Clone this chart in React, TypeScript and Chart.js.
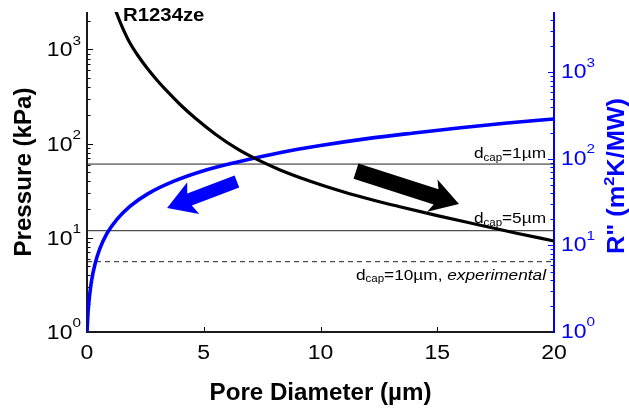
import React, { useEffect, useRef } from "react";
import { Chart, registerables } from "chart.js";
Chart.register(...registerables);

// ---- data ----
const pressureDiameter = [1.1, 1.25, 1.5, 1.84, 2.2, 2.57, 3, 3.43, 4, 4.63, 5.5, 6.42, 7.3, 8.27, 9.5, 11, 12.2, 13.4, 15, 16.8, 18.4, 20];
const pressureKPa = [3200, 2496, 1750, 1170, 847, 636, 472, 361, 259, 187, 126, 88.6, 67.6, 52.6, 40.4, 30.7, 25.4, 21.4, 17.2, 13.7, 11.2, 9.25];

const resistanceDiameter = [0, 0.05, 0.1, 0.2, 0.35, 0.55, 0.85, 1.3, 1.85, 2.6, 3.7, 5.1, 6.5, 8.3, 10, 12, 14, 16, 18, 20];
const resistanceR = [1, 1.75, 2.5, 4, 6.2, 9.2, 13.7, 20.3, 28.5, 39.5, 55, 74.5, 93, 119, 143, 172, 200, 230, 260, 290];

const capLabels = ["1\u00b5m", "5\u00b5m", "10\u00b5m"];
const capPressure = [60.7, 11.9, 5.58];
const capDashed = [false, false, true];

const xTicks = [0, 5, 10, 15, 20];
const leftExponents = [0, 1, 2, 3];
const rightExponents = [0, 1, 2, 3];

const arrowBlueD = [6.42, 3.43];
const arrowBlueP = [39.6, 20.7];
const arrowBlackD = [11.52, 15.93];
const arrowBlackP = [51, 22.8];

const X_MIN = 0, X_MAX = 20;
const P_MIN = 1, P_MAX = 2500;
const R_MIN = 1, R_MAX = 5000;

const FF = '"Liberation Sans", Arial, Helvetica, sans-serif';
const BLUE = "#0000ff";

type Run = { t: string; font: string; dy?: number };

function drawRuns(
  ctx: CanvasRenderingContext2D,
  runs: Run[],
  x: number,
  y: number,
  align: "left" | "right" | "center",
  color: string,
  sx = 1,
  baseline: CanvasTextBaseline = "middle",
  rotate = 0
) {
  ctx.save();
  ctx.fillStyle = color;
  ctx.textBaseline = baseline;
  ctx.textAlign = "left";
  const widths = runs.map((r) => {
    ctx.font = r.font;
    return ctx.measureText(r.t).width;
  });
  const total = widths.reduce((a, b) => a + b, 0);
  const start = align === "left" ? 0 : align === "right" ? -total : -total / 2;
  ctx.translate(x, y);
  if (rotate) ctx.rotate(rotate);
  ctx.scale(sx, 1);
  let cx = start;
  runs.forEach((r, i) => {
    ctx.font = r.font;
    ctx.fillText(r.t, cx, r.dy || 0);
    cx += widths[i];
  });
  ctx.restore();
}

function drawArrow(
  ctx: CanvasRenderingContext2D,
  x0: number, y0: number, x1: number, y1: number,
  shaftW: number, headW: number, headL: number, back: number, color: string
) {
  const dx = x1 - x0, dy = y1 - y0;
  const L = Math.hypot(dx, dy);
  const ux = dx / L, uy = dy / L;
  const nx = -uy, ny = ux;
  const kx = x1 - ux * headL, ky = y1 - uy * headL;
  ctx.save();
  ctx.fillStyle = color;
  ctx.beginPath();
  ctx.moveTo(x0 + (nx * shaftW) / 2, y0 + (ny * shaftW) / 2);
  ctx.lineTo(kx + (nx * shaftW) / 2, ky + (ny * shaftW) / 2);
  ctx.lineTo(kx - ux * back + (nx * headW) / 2, ky - uy * back + (ny * headW) / 2);
  ctx.lineTo(x1, y1);
  ctx.lineTo(kx - ux * back - (nx * headW) / 2, ky - uy * back - (ny * headW) / 2);
  ctx.lineTo(kx - (nx * shaftW) / 2, ky - (ny * shaftW) / 2);
  ctx.lineTo(x0 - (nx * shaftW) / 2, y0 - (ny * shaftW) / 2);
  ctx.closePath();
  ctx.fill();
  ctx.restore();
}

function logTicks(min: number, max: number) {
  const major: number[] = [];
  const minor: number[] = [];
  for (let e = Math.floor(Math.log10(min)); e <= Math.ceil(Math.log10(max)); e++) {
    const base = Math.pow(10, e);
    if (base >= min && base <= max) major.push(base);
    for (let m = 2; m <= 9; m++) {
      const v = m * base;
      if (v > min && v < max) minor.push(v);
    }
  }
  return { major, minor };
}

const decorPlugin = {
  id: "decor",
  beforeDatasetsDraw(chart: any) {
    const ctx: CanvasRenderingContext2D = chart.ctx;
    const { left, right, top, bottom } = chart.chartArea;
    const ys = chart.scales.y;
    const yr = chart.scales.y2;
    const xs = chart.scales.x;
    ctx.save();
    ctx.strokeStyle = "#000";
    ctx.lineWidth = 1;
    const lt = logTicks(P_MIN, P_MAX);
    lt.major.forEach((v) => {
      const y = Math.round(ys.getPixelForValue(v)) + 0.5;
      ctx.beginPath(); ctx.moveTo(left, y); ctx.lineTo(left + 6, y); ctx.stroke();
    });
    lt.minor.forEach((v) => {
      const y = Math.round(ys.getPixelForValue(v)) + 0.5;
      ctx.beginPath(); ctx.moveTo(left, y); ctx.lineTo(left + 3.5, y); ctx.stroke();
    });
    ctx.strokeStyle = BLUE;
    const rt = logTicks(R_MIN, R_MAX);
    rt.major.forEach((v) => {
      const y = Math.round(yr.getPixelForValue(v)) + 0.5;
      ctx.beginPath(); ctx.moveTo(right, y); ctx.lineTo(right - 6, y); ctx.stroke();
    });
    rt.minor.forEach((v) => {
      const y = Math.round(yr.getPixelForValue(v)) + 0.5;
      ctx.beginPath(); ctx.moveTo(right, y); ctx.lineTo(right - 3.5, y); ctx.stroke();
    });
    ctx.strokeStyle = "#000";
    xTicks.forEach((v) => {
      const x = Math.round(xs.getPixelForValue(v)) + 0.5;
      ctx.beginPath(); ctx.moveTo(x, bottom); ctx.lineTo(x, bottom - 5); ctx.stroke();
    });
    ctx.lineWidth = 2;
    ctx.strokeStyle = "#1a1a1a";
    ctx.beginPath(); ctx.moveTo(left, top); ctx.lineTo(left, bottom + 1); ctx.stroke();
    ctx.beginPath(); ctx.moveTo(left - 1, bottom); ctx.lineTo(right, bottom); ctx.stroke();
    ctx.strokeStyle = BLUE;
    ctx.beginPath(); ctx.moveTo(right, top); ctx.lineTo(right, bottom + 1); ctx.stroke();
    ctx.restore();
  },
  afterDatasetsDraw(chart: any) {
    const ctx: CanvasRenderingContext2D = chart.ctx;
    const { left, right, top, bottom } = chart.chartArea;
    const ys = chart.scales.y;
    const yr = chart.scales.y2;
    const xs = chart.scales.x;
    const tickFont = `19.5px ${FF}`;
    const supFont = `13px ${FF}`;
    const SX = 1.18;

    leftExponents.forEach((e) => {
      const y = ys.getPixelForValue(Math.pow(10, e));
      drawRuns(ctx, [{ t: "10", font: tickFont }, { t: String(e), font: supFont, dy: -10 }], left - 6, y + 1.5, "right", "#000", SX);
    });
    rightExponents.forEach((e) => {
      const y = yr.getPixelForValue(Math.pow(10, e));
      drawRuns(ctx, [{ t: "10", font: tickFont }, { t: String(e), font: supFont, dy: -10 }], right + 7, y + 0.5, "left", BLUE, SX);
    });
    xTicks.forEach((v) => {
      const x = xs.getPixelForValue(v);
      drawRuns(ctx, [{ t: String(v), font: tickFont }], x, bottom + 21.5, "center", "#000", SX);
    });

    const titleFont = `bold 23px ${FF}`;
    drawRuns(ctx, [{ t: "Pore Diameter (\u00b5m)", font: titleFont }], (left + right) / 2, bottom + 61.5, "center", "#000", 1.05);
    drawRuns(ctx, [{ t: "Pressure (kPa)", font: titleFont }], left - 62.5, (top + bottom) / 2, "center", "#000", 1.05, "middle", -Math.PI / 2);
    drawRuns(
      ctx,
      [
        { t: 'R" (m', font: titleFont },
        { t: "2", font: `bold 15px ${FF}`, dy: -8 },
        { t: "K/MW)", font: titleFont },
      ],
      right + 63.5,
      (top + bottom) / 2 + 4,
      "center",
      BLUE,
      1.1,
      "middle",
      -Math.PI / 2
    );

    drawRuns(ctx, [{ t: "R1234ze", font: `bold 18px ${FF}` }], left + 36, top + 4.5, "left", "#000", 1.13);

    const lf = `15px ${FF}`;
    const sf = `10px ${FF}`;
    const offsets = [-5.7, -7.4, 18.3];
    capLabels.forEach((lab, i) => {
      const y = ys.getPixelForValue(capPressure[i]) + offsets[i];
      const runs: Run[] = [
        { t: "d", font: lf },
        { t: "cap", font: sf, dy: 2.5 },
        { t: "=" + lab + (capDashed[i] ? ", " : ""), font: lf },
      ];
      if (capDashed[i]) runs.push({ t: "experimental", font: `italic 15px ${FF}` });
      drawRuns(ctx, runs, right - 8, y, "right", "#000", 1.15, "alphabetic");
    });

    drawArrow(
      ctx,
      xs.getPixelForValue(arrowBlueD[0]), ys.getPixelForValue(arrowBlueP[0]),
      xs.getPixelForValue(arrowBlueD[1]), ys.getPixelForValue(arrowBlueP[1]),
      13, 34, 24, 4, BLUE
    );
    drawArrow(
      ctx,
      xs.getPixelForValue(arrowBlackD[0]), ys.getPixelForValue(arrowBlackP[0]),
      xs.getPixelForValue(arrowBlackD[1]), ys.getPixelForValue(arrowBlackP[1]),
      16, 34, 24, 4, "#000"
    );
  },
};

export default function App() {
  const ref = useRef<HTMLCanvasElement | null>(null);
  useEffect(() => {
    if (!ref.current) return;
    let alive = true;
    const capSets = capPressure.map((p, i) => ({
      label: "dcap " + capLabels[i],
      data: [{ x: X_MIN, y: p }, { x: X_MAX, y: p }],
      yAxisID: "y",
      borderColor: "#222",
      borderWidth: 1,
      borderDash: capDashed[i] ? [5, 4] : [],
      pointRadius: 0,
      order: 5 + i,
    }));
    const chart = new Chart(ref.current, {
      type: "line",
      data: {
        datasets: [
          {
            label: "Pressure",
            data: pressureDiameter.map((d, i) => ({ x: d, y: pressureKPa[i] })),
            yAxisID: "y",
            borderColor: "#000",
            borderWidth: 3.2,
            pointRadius: 0,
            cubicInterpolationMode: "monotone",
            order: 0,
          },
          {
            label: "R''",
            data: resistanceDiameter.map((d, i) => ({ x: d, y: resistanceR[i] })),
            yAxisID: "y2",
            borderColor: BLUE,
            borderWidth: 3.6,
            pointRadius: 0,
            cubicInterpolationMode: "monotone",
            order: 1,
          },
          ...capSets,
        ] as any,
      },
      options: {
        animation: false,
        responsive: false,
        maintainAspectRatio: false,
        layout: { padding: { top: 12, left: 0, right: 0, bottom: 0 } },
        plugins: { legend: { display: false }, tooltip: { enabled: false } },
        events: [],
        scales: {
          x: {
            type: "linear", min: X_MIN, max: X_MAX, position: "bottom",
            ticks: { display: false }, grid: { display: false }, border: { display: false },
            afterFit: (s: any) => { s.height = 80; },
          },
          y: {
            type: "logarithmic", min: P_MIN, max: P_MAX, position: "left",
            ticks: { display: false }, grid: { display: false }, border: { display: false },
            afterFit: (s: any) => { s.width = 87; },
          },
          y2: {
            type: "logarithmic", min: R_MIN, max: R_MAX, position: "right",
            ticks: { display: false }, grid: { display: false }, border: { display: false },
            afterFit: (s: any) => { s.width = 75; },
          },
        },
      } as any,
      plugins: [decorPlugin],
    });
    const fonts = [`19.5px "Liberation Sans"`, `bold 23px "Liberation Sans"`, `italic 15px "Liberation Sans"`];
    if ((document as any).fonts && (document as any).fonts.load) {
      Promise.all(fonts.map((f) => (document as any).fonts.load(f)))
        .then(() => { if (alive) chart.update(); })
        .catch(() => {});
    }
    return () => { alive = false; chart.destroy(); };
  }, []);
  return (
    <div style={{ position: "absolute", left: 0, top: 0, width: 629, height: 412, background: "#fff" }}>
      <canvas ref={ref} width={629} height={412} style={{ display: "block", width: 629, height: 412 }} />
    </div>
  );
}
